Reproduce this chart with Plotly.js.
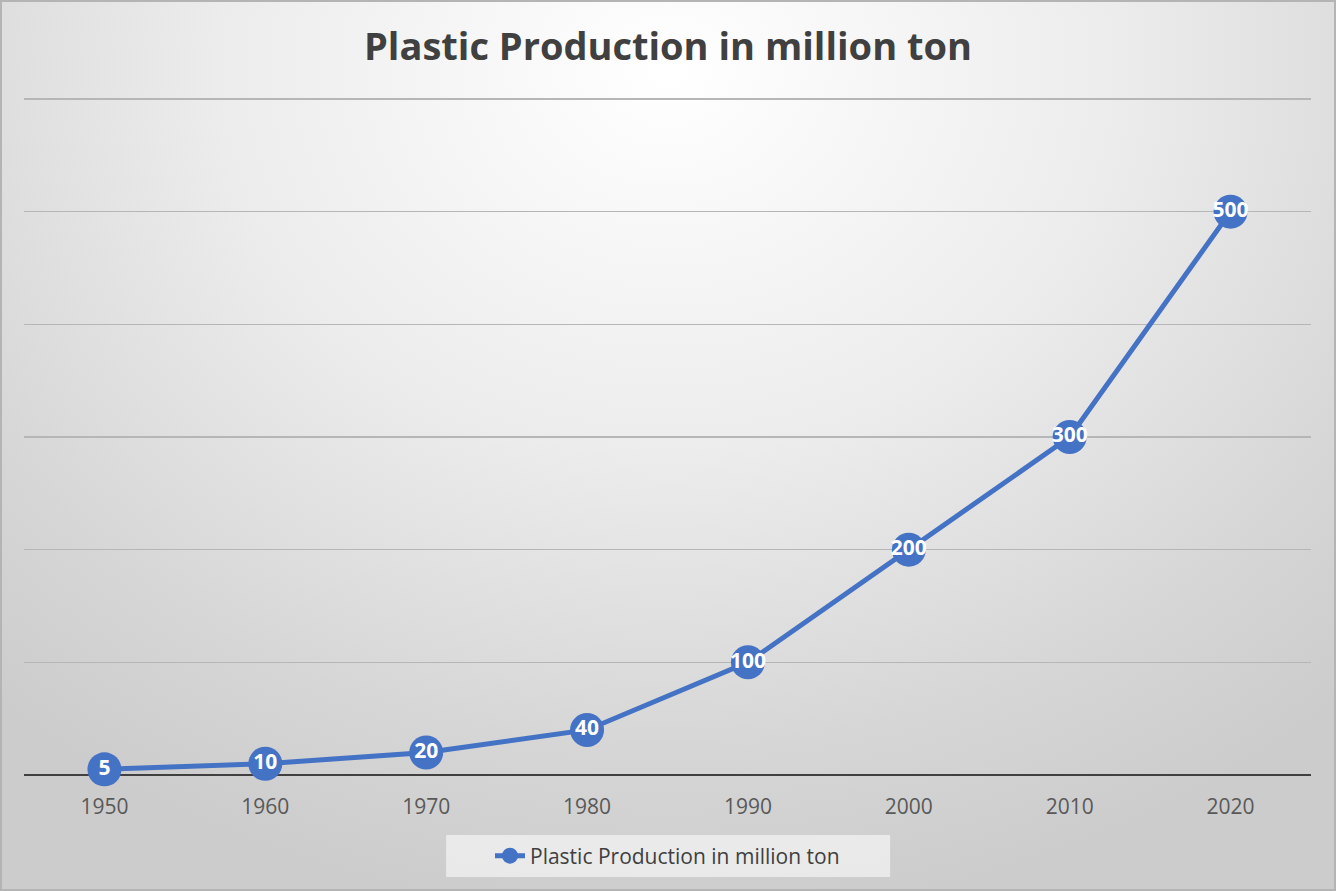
<!DOCTYPE html>
<html>
<head>
<meta charset="utf-8">
<script src="https://cdn.plot.ly/plotly-3.0.1.min.js"></script>
<style>
    html, body { margin: 0; padding: 0; }
    #chart {
        width: 1336px;
        height: 891px;
        outline: 2px solid #b4b4b4;
        outline-offset: -2px;
        background: radial-gradient(ellipse 75% 95% at 50% 8%, #ffffff 0%, #ececec 45%, #d6d6d6 80%, #cccccc 100%);
    }
</style>
</head>
<body>
<div id="chart"></div>
<script>
// Данные графика
const years = ["1950", "1960", "1970", "1980", "1990", "2000", "2010", "2020"];
const production = [5, 10, 20, 40, 100, 200, 300, 500];
const gridValues = [0, 100, 200, 300, 400, 500, 600];
const seriesName = "Plastic Production in million ton";

const blue = "#4472C4";
const fontFamily = "Open Sans, Noto Sans, sans-serif";

let trace = {
    x: years,
    y: production,
    type: 'scatter',
    mode: 'lines+markers+text',
    name: seriesName,
    text: production.map(String),
    textposition: 'middle center',
    textfont: { family: fontFamily, size: 21, color: '#ffffff', weight: 'bold' },
    line: { color: blue, width: 5 },
    marker: { color: blue, size: 34 },
    cliponaxis: false
};

let layout = {
    width: 1336,
    height: 891,
    margin: { l: 24, r: 25, t: 92, b: 116 },
    paper_bgcolor: 'rgba(0,0,0,0)',
    plot_bgcolor: 'rgba(0,0,0,0)',
    font: { family: fontFamily, color: '#595959' },
    title: {
        text: '<b>Plastic Production in million ton</b>',
        font: { family: fontFamily, size: 38, color: '#404040' },
        x: 0.5,
        xanchor: 'center',
        y: 0.948,
        yanchor: 'middle'
    },
    xaxis: {
        type: 'category',
        range: [-0.5, 7.5],
        showgrid: false,
        showline: false,
        zeroline: false,
        ticks: '',
        ticklabelstandoff: 17,
        tickfont: { family: fontFamily, size: 21, color: '#595959' },
        fixedrange: true
    },
    yaxis: {
        range: [0, 606.2],
        tickvals: gridValues,
        showticklabels: false,
        showgrid: true,
        gridcolor: '#b6b6b6',
        gridwidth: 1.5,
        zeroline: true,
        zerolinecolor: '#404040',
        zerolinewidth: 2.5,
        showline: false,
        fixedrange: true
    },
    shapes: [{
        type: 'rect',
        xref: 'paper',
        yref: 'paper',
        x0: 0.328,
        x1: 0.673,
        y0: -0.1493,
        y1: -0.0878,
        line: { width: 0 },
        fillcolor: 'rgba(236,236,236,0.9)',
        layer: 'below'
    }],
    showlegend: true,
    legend: {
        orientation: 'h',
        x: 0.5,
        xanchor: 'center',
        y: -0.1186,
        yanchor: 'middle',
        bgcolor: 'rgba(0,0,0,0)',
        font: { family: fontFamily, size: 21, color: '#404040' },
        itemwidth: 30
    }
};

Plotly.newPlot('chart', [trace], layout, { displayModeBar: false, staticPlot: true });
</script>
</body>
</html>
